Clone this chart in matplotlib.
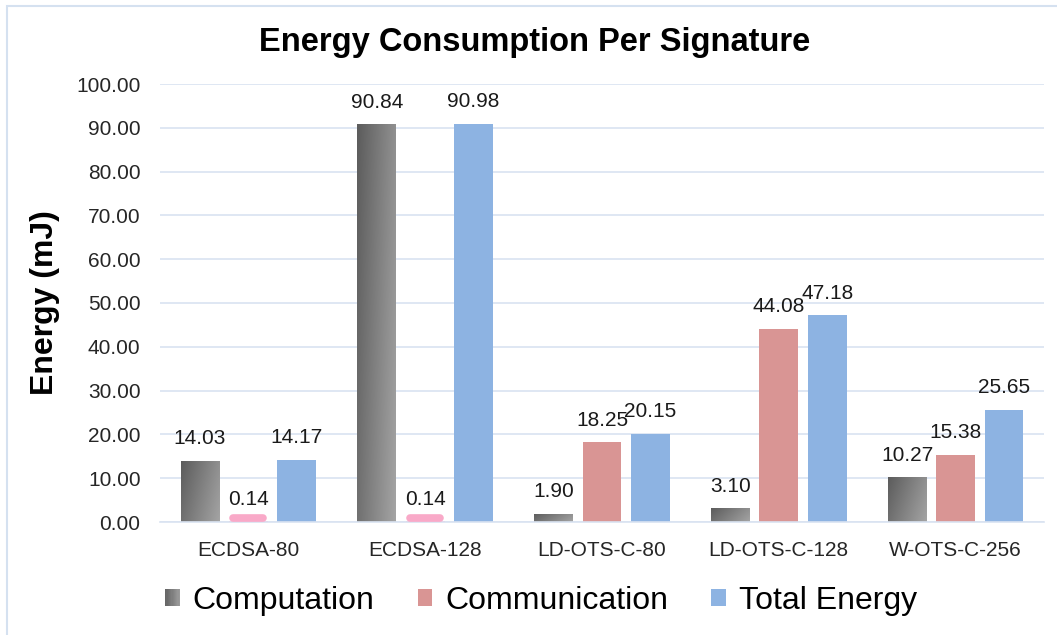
import matplotlib
matplotlib.use("Agg")
import matplotlib.pyplot as plt
import numpy as np
from matplotlib.patches import Rectangle
from matplotlib.legend_handler import HandlerBase

plt.rcParams['font.family'] = ['Liberation Sans', 'DejaVu Sans']

schemes = ['ECDSA-80', 'ECDSA-128', 'LD-OTS-C-80', 'LD-OTS-C-128', 'W-OTS-C-256']
computation = [14.03, 90.84, 1.90, 3.10, 10.27]
communication = [0.14, 0.14, 18.25, 44.08, 15.38]
total_energy = [14.17, 90.98, 20.15, 47.18, 25.65]

comm_color = '#d99594'
comm_small_color = '#f9a9c8'
total_color = '#8db3e2'
grid_color = '#d9e3f1'
gray_dark, gray_light = '#5c5c5c', '#a4a4a4'

fig = plt.figure(figsize=(10.57, 6.35), dpi=100)
ax = fig.add_axes([160 / 1057, 1 - 522 / 635, 884 / 1057, 438 / 635])

x = np.arange(len(schemes))
w = 0.22
step = 0.274

# gray gradient for the computation bars: dark on the left/top, light on the right/bottom
cmap = matplotlib.colors.LinearSegmentedColormap.from_list('g', [gray_dark, gray_light])
u = np.linspace(0, 1, 64)
grad = 0.72 * u[None, :] + 0.28 * u[:, None]

comp_bars = ax.bar(x - step, computation, w, color='none', edgecolor='none')
for b in comp_bars:
    im = ax.imshow(grad, cmap=cmap, vmin=0, vmax=1,
                   extent=[b.get_x(), b.get_x() + b.get_width(), 0, b.get_height()],
                   origin='upper', aspect='auto', zorder=2)
    im.set_clip_path(b)

comm_bars = ax.bar(x, communication, w, color=comm_color, zorder=2)
for b, v in zip(comm_bars, communication):
    if v < 1:
        # tiny values get a rounded pink pill so they stay visible
        b.set_facecolor(comm_small_color)
        x0 = b.get_x() + 0.025
        x1 = b.get_x() + b.get_width() - 0.025
        ax.plot([x0, x1], [v + 0.7, v + 0.7], color=comm_small_color, lw=5.5,
                solid_capstyle='round', clip_on=False, zorder=3)

total_bars = ax.bar(x + step, total_energy, w, color=total_color, zorder=2)

for xs, vals in [(x - step, computation), (x, communication), (x + step, total_energy)]:
    for xi, v in zip(xs, vals):
        ax.annotate(f'{v:.2f}', (xi, v), xytext=(0, 9), textcoords='offset points',
                    ha='center', va='bottom', fontsize=15, color='#1a1a1a')

ax.set_ylim(0, 100)
ax.set_xlim(-0.5, len(schemes) - 0.5)
ticks = np.arange(0, 101, 10)
ax.set_yticks(ticks)
ax.set_yticklabels([f'{t:.2f}' for t in ticks])
ax.set_xticks(x)
ax.set_xticklabels(schemes)
ax.tick_params(axis='both', length=0, labelsize=15, colors='#262626')
ax.tick_params(axis='y', pad=14)
ax.tick_params(axis='x', pad=14)
ax.yaxis.grid(True, color=grid_color, linewidth=1.2)
ax.set_axisbelow(True)
for s in ['top', 'right', 'left']:
    ax.spines[s].set_visible(False)
ax.spines['bottom'].set_color(grid_color)
ax.spines['bottom'].set_linewidth(1.2)

ax.set_ylabel('Energy (mJ)', fontsize=23, fontweight='bold', labelpad=12)
fig.text(535 / 1057, 1 - 42 / 635, 'Energy Consumption Per Signature',
         ha='center', va='center', fontsize=23.5, fontweight='bold')


class GradientHandler(HandlerBase):
    def create_artists(self, legend, orig_handle, xdescent, ydescent, width, height, fontsize, trans):
        n = 12
        arts = []
        for i in range(n):
            c = cmap(0.1 + 0.8 * (i + 0.5) / n)
            arts.append(Rectangle((-xdescent + width * i / n, -ydescent), width / n + 0.3, height,
                                  facecolor=c, edgecolor='none', transform=trans))
        return arts


handles = [comp_bars[0], comm_bars[2], total_bars[0]]
leg = fig.legend(handles, ['Computation', 'Communication', 'Total Energy'],
                 loc='center', bbox_to_anchor=(541 / 1057, 1 - 601 / 635), ncol=3,
                 frameon=False, fontsize=23, handlelength=0.46, handleheight=0.46,
                 handletextpad=0.4, columnspacing=1.35,
                 handler_map={comp_bars[0]: GradientHandler()})

# chart area border (left and top edges show)
fig.add_artist(Rectangle((7 / 1057, -0.1), 1.2, 1.1 - 6 / 635,
                         transform=fig.transFigure, fill=False, edgecolor='#d5e1f0', linewidth=1.5))

fig.savefig('out.png', dpi=100)
